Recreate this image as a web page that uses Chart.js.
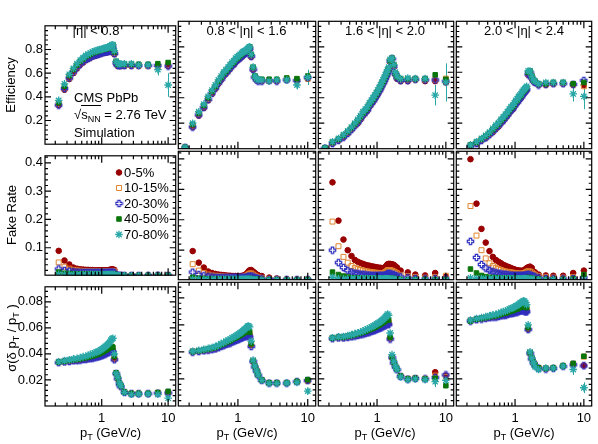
<!DOCTYPE html>
<html>
<head>
<meta charset="utf-8">
<script src="https://cdn.jsdelivr.net/npm/chart.js@4.4.1/dist/chart.umd.min.js"></script>
<style>
  body { margin: 0; background: #fff; width: 598px; height: 444px; overflow: hidden; position: relative;
         font-family: 'Liberation Sans', Arial, sans-serif; }
  canvas { position: absolute; }
  .lbl { position: absolute; font-size: 13px; line-height: 15px; color: #000; white-space: nowrap; }
  .c { transform: translate(-50%, -50%); }
  .rot { transform: translate(-50%, -50%) rotate(-90deg); }
  sub { font-size: 9px; vertical-align: -3px; line-height: 0; }
  .ov { border-top: 1px solid #000; padding-top: 1px; }
</style>
</head>
<body>
<script>
// pT bin centres (GeV/c)
const ptBins = [0.175,
  0.225, 0.275, 0.325, 0.375, 0.425, 0.475, 0.525, 0.575, 0.625, 0.675,
  0.725, 0.775, 0.825, 0.875, 0.925, 0.975, 1.025, 1.075, 1.125, 1.175,
  1.225, 1.275, 1.325, 1.375, 1.425, 1.475,
  1.55, 1.65, 1.75, 1.85, 1.95,
  2.2, 2.8, 3.6, 5, 7, 10];

const centLabels = ['0-5%', '10-15%', '20-30%', '40-50%', '70-80%'];
const etaLabels = ['|η| < 0.8', '0.8 < |η| < 1.6', '1.6 < |η| < 2.0', '2.0 < |η| < 2.4'];

const xTickVals = [1, 10];
const xMinorTicks = [0.2, 0.3, 0.4, 0.5, 0.6, 0.7, 0.8, 0.9, 2, 3, 4, 5, 6, 7, 8, 9];
const effTicks = [0.2, 0.4, 0.6, 0.8];
const effMinor = [0.04, 0.08, 0.12, 0.16, 0.24, 0.28, 0.32, 0.36, 0.44, 0.48, 0.52, 0.56, 0.64, 0.68, 0.72, 0.76, 0.84, 0.88, 0.92, 0.96];
const fakeTicks = [0.1, 0.2, 0.3, 0.4];
const fakeMinor = [0.02, 0.04, 0.06, 0.08, 0.12, 0.14, 0.16, 0.18, 0.22, 0.24, 0.26, 0.28, 0.32, 0.34, 0.36, 0.38, 0.42];
const resTicks = [0.02, 0.04, 0.06, 0.08];
const resMinor = [0.004, 0.008, 0.012, 0.016, 0.024, 0.028, 0.032, 0.036, 0.044, 0.048, 0.052, 0.056, 0.064, 0.068, 0.072, 0.076, 0.084, 0.088];

// rows in each block: 0-5%, 10-15%, 20-30%, 40-50%, 70-80%
const effEta0 = [
  [null, .33,.46,.55,.60,.64,.67,.69,.71,.72,.73, .74,.745,.75,.755,.76,.765,.77,.77,.775,.775, .78,.78,.785,.79,.80,.81, .76,.68,.66,.66,.66, .66,.66,.66,.66,.66,.66],
  [null, .34,.47,.56,.61,.65,.68,.70,.72,.73,.74, .75,.755,.76,.765,.77,.775,.78,.78,.785,.785, .79,.79,.795,.80,.81,.82, .77,.69,.665,.665,.665, .665,.665,.665,.66,.655,.67],
  [null, .33,.47,.56,.61,.65,.68,.70,.715,.725,.735, .745,.75,.755,.76,.765,.77,.775,.775,.78,.78, .785,.785,.79,.795,.805,.815, .765,.685,.665,.665,.665, .665,.665,.665,.665,.665,.66],
  [null, .35,.49,.58,.63,.67,.70,.72,.74,.75,.76, .77,.775,.78,.785,.79,.795,.80,.80,.805,.805, .81,.81,.815,.82,.83,.835, .78,.70,.675,.675,.675, .675,.675,.675,.675,.68,.69],
  [null, .37,.51,.59,.64,.68,.71,.73,.75,.76,.77, .78,.785,.79,.795,.80,.80,.805,.81,.81,.815, .82,.82,.825,.83,.84,.84, .79,.70,.68,.68,.68, .68,.68,.67,.67,.63,.50]
];
const effEta1 = [
  [.01, .17,.26,.32,.38,.43,.47,.51,.54,.57,.59, .61,.63,.65,.66,.68,.69,.70,.71,.72,.73, .74,.745,.75,.76,.77,.78, .72,.62,.56,.54,.53, .53,.53,.53,.54,.53,.55],
  [.01, .18,.27,.33,.39,.44,.48,.52,.55,.58,.60, .62,.64,.66,.67,.69,.70,.71,.72,.73,.74, .75,.755,.76,.77,.78,.79, .73,.63,.565,.545,.535, .535,.535,.535,.545,.535,.55],
  [.01, .17,.265,.325,.385,.435,.475,.515,.545,.575,.595, .615,.635,.655,.665,.685,.695,.705,.715,.725,.735, .745,.75,.755,.765,.775,.785, .725,.62,.56,.54,.53, .53,.535,.53,.54,.535,.56],
  [.01, .19,.28,.34,.40,.45,.49,.53,.56,.59,.61, .63,.65,.67,.68,.70,.71,.72,.73,.74,.75, .76,.765,.77,.78,.79,.80, .74,.64,.57,.55,.545, .545,.545,.545,.555,.55,.57],
  [.01, .20,.29,.35,.41,.46,.50,.54,.57,.60,.62, .64,.66,.68,.69,.71,.72,.73,.74,.75,.76, .765,.77,.775,.785,.795,.80, .74,.64,.57,.55,.54, .54,.53,.54,.54,.50,.56]
];
const effEta2 = [
  [.005, .04,.065,.09,.12,.15,.18,.20,.23,.26,.28, .30,.33,.35,.37,.39,.41,.43,.45,.47,.49, .51,.53,.55,.57,.59,.61, .68,.70,.64,.58,.55, .53,.53,.54,.53,.53,.52],
  [.005, .045,.07,.095,.125,.155,.185,.21,.24,.27,.29, .31,.34,.36,.38,.40,.42,.44,.46,.48,.50, .52,.54,.56,.58,.60,.62, .69,.71,.65,.59,.56, .54,.54,.545,.54,.54,.55],
  [.005, .04,.065,.09,.12,.15,.18,.205,.235,.265,.285, .305,.335,.355,.375,.395,.415,.435,.455,.475,.495, .515,.535,.555,.575,.595,.615, .685,.705,.645,.585,.555, .535,.535,.545,.54,.54,.53],
  [.005, .05,.075,.105,.135,.165,.195,.22,.25,.28,.30, .32,.35,.37,.39,.41,.43,.45,.47,.49,.51, .53,.55,.57,.59,.61,.63, .69,.71,.66,.59,.565, .55,.55,.55,.55,.58,.545],
  [.005, .055,.08,.11,.14,.17,.20,.23,.26,.29,.31, .33,.36,.38,.40,.42,.44,.46,.48,.50,.52, .54,.56,.58,.60,.62,.64, .70,.71,.66,.60,.57, .55,.555,.55,.55,.42,.52]
];
const effEta3 = [
  [null, .02,.04,.065,.085,.11,.13,.155,.175,.20,.22, .24,.26,.28,.30,.31,.33,.35,.36,.38,.39, .40,.42,.43,.44,.45,.46, .58,.59,.55,.53,.52, .50,.50,.51,.51,.50,.50],
  [null, .025,.045,.07,.09,.115,.14,.165,.185,.21,.23, .25,.27,.29,.31,.32,.34,.36,.37,.39,.40, .41,.43,.44,.45,.46,.47, .59,.60,.56,.535,.52, .505,.505,.51,.515,.505,.49],
  [null, .02,.04,.065,.085,.11,.135,.16,.18,.205,.225, .245,.265,.285,.305,.315,.335,.355,.365,.385,.395, .405,.425,.435,.445,.455,.465, .585,.595,.555,.53,.52, .50,.505,.51,.51,.505,.535],
  [null, .03,.05,.075,.10,.125,.15,.175,.195,.22,.24, .26,.28,.30,.32,.33,.35,.37,.38,.40,.41, .42,.44,.45,.46,.47,.48, .60,.61,.57,.54,.53, .51,.51,.52,.52,.51,.52],
  [null, .03,.055,.08,.105,.13,.16,.185,.205,.23,.25, .27,.29,.31,.33,.34,.36,.38,.39,.41,.42, .43,.45,.46,.47,.48,.49, .61,.61,.57,.54,.53, .51,.52,.52,.52,.43,.41]
];
// 70-80% uncertainties on the last six bins
const effErr70 = [
  [.01, .01, .015, .02, .05, .10],
  [.01, .01, .015, .02, .035, .06],
  [.01, .01, .015, .02, .08, .15],
  [.01, .015, .015, .02, .06, .10]
];

const fakeEta0 = [
  [null, .089,.055,.041,.030,.026,.024,.023,.022,.022,.021, .021,.020,.020,.020,.020,.020,.020,.020,.020,.020, .020,.021,.022,.023,.024,.023, .022,.004,.003,.003,.003, .003,.003,.003,.003,.003,.003],
  [null, .048,.033,.026,.022,.020,.019,.018,.018,.017,.017, .017,.016,.016,.016,.016,.016,.016,.016,.016,.016, .016,.017,.017,.018,.018,.018, .017,.003,.002,.002,.002, .002,.002,.002,.002,.002,.003],
  [null, .025,.020,.017,.015,.014,.014,.013,.013,.013,.013, .012,.012,.012,.012,.012,.012,.012,.012,.012,.012, .012,.012,.013,.013,.013,.013, .012,.002,.002,.002,.002, .002,.002,.002,.002,.003,.002],
  [null, .014,.010,.009,.008,.008,.008,.008,.008,.008,.008, .008,.008,.008,.008,.008,.008,.008,.008,.008,.008, .008,.008,.008,.008,.008,.008, .007,.002,.002,.002,.002, .002,.002,.002,.002,.002,.002],
  [null, .006,.005,.005,.005,.005,.005,.005,.005,.005,.005, .005,.005,.005,.005,.005,.005,.005,.005,.005,.005, .005,.005,.005,.005,.005,.005, .005,.001,.001,.001,.001, .001,.001,.001,.001,.001,.001]
];
const fakeEta1 = [
  [null, .097,.059,.043,.030,.025,.022,.020,.019,.018,.017, .016,.016,.015,.015,.015,.015,.015,.015,.015,.016, .017,.019,.022,.026,.031,.034, .035,.030,.025,.020,.018, .015,.010,.007,.005,.004,.004],
  [null, .054,.033,.025,.020,.017,.016,.015,.014,.013,.013, .012,.012,.012,.012,.012,.012,.012,.012,.012,.012, .013,.014,.016,.018,.021,.023, .024,.020,.016,.013,.011, .009,.006,.004,.003,.003,.004],
  [null, .028,.020,.016,.013,.012,.011,.010,.010,.010,.010, .009,.009,.009,.009,.009,.009,.009,.009,.009,.009, .010,.010,.011,.012,.013,.014, .015,.012,.010,.008,.007, .006,.004,.003,.003,.003,.003],
  [null, .011,.008,.007,.006,.006,.006,.006,.006,.006,.006, .006,.006,.006,.006,.006,.006,.006,.006,.006,.006, .006,.006,.006,.006,.007,.007, .007,.006,.005,.004,.004, .003,.003,.002,.002,.002,.003],
  [null, .004,.004,.004,.004,.004,.004,.004,.004,.004,.004, .004,.004,.004,.004,.004,.004,.004,.004,.004,.004, .004,.004,.004,.004,.004,.004, .004,.003,.003,.002,.002, .002,.002,.002,.002,.002,.002]
];
const fakeEta2 = [
  [null, .323,.197,.135,.100,.081,.068,.062,.058,.055,.052, .050,.049,.047,.046,.045,.044,.043,.042,.042,.041, .041,.042,.045,.050,.054,.055, .055,.054,.052,.047,.043, .033,.027,.020,.017,.025,.013],
  [null, .194,.113,.078,.059,.048,.042,.038,.035,.033,.031, .030,.029,.028,.027,.026,.026,.025,.025,.025,.025, .025,.026,.028,.031,.034,.035, .035,.033,.030,.027,.024, .019,.015,.012,.010,.012,.016],
  [null, .100,.059,.043,.033,.028,.025,.023,.021,.020,.019, .018,.018,.017,.017,.016,.016,.016,.016,.016,.016, .016,.017,.018,.020,.022,.023, .023,.021,.019,.017,.015, .012,.009,.007,.006,.006,.006],
  [null, .028,.020,.015,.012,.010,.009,.009,.008,.008,.008, .008,.008,.008,.008,.008,.008,.008,.008,.008,.008, .008,.008,.008,.008,.009,.009, .009,.008,.007,.006,.005, .004,.003,.003,.003,.003,.003],
  [null, .011,.007,.006,.006,.006,.006,.006,.006,.006,.006, .006,.006,.006,.006,.006,.006,.006,.006,.006,.006, .006,.006,.006,.006,.006,.006, .006,.005,.004,.003,.003, .002,.002,.002,.002,.002,.002]
];
const fakeEta3 = [
  [null, .399,.253,.170,.125,.097,.078,.068,.062,.057,.052, .049,.046,.044,.041,.039,.037,.035,.034,.033,.033, .032,.032,.033,.035,.038,.041, .044,.046,.042,.030,.027, .020,.017,.016,.016,.025,.033],
  [null, .245,.148,.100,.073,.057,.048,.042,.038,.035,.032, .030,.029,.028,.027,.026,.025,.024,.024,.023,.023, .023,.023,.024,.025,.027,.029, .031,.030,.027,.022,.019, .015,.012,.010,.010,.012,.015],
  [null, .129,.076,.053,.041,.034,.029,.026,.024,.022,.021, .020,.019,.018,.018,.017,.017,.017,.016,.016,.016, .016,.016,.016,.017,.018,.019, .020,.019,.017,.014,.012, .009,.007,.006,.006,.007,.010],
  [null, .038,.025,.017,.013,.011,.010,.010,.009,.009,.009, .009,.009,.009,.009,.009,.009,.009,.009,.009,.009, .009,.009,.009,.009,.009,.010, .010,.009,.008,.007,.006, .005,.004,.004,.004,.006,.020],
  [null, .009,.007,.007,.006,.006,.006,.006,.006,.006,.006, .006,.006,.006,.006,.006,.006,.006,.006,.006,.006, .006,.006,.006,.006,.006,.006, .006,.005,.004,.004,.004, .003,.003,.003,.003,.003,.003]
];

const resEta0 = [
  [null, .0335,.0340,.0345,.0350,.0350,.0355,.0360,.0360,.0365,.0370, .0370,.0375,.0380,.0380,.0385,.0390,.0395,.0400,.0405,.0410, .0415,.0420,.0425,.0430,.0430,.0420, .0360,.0250,.0210,.0170,.0150, .0105,.0095,.0095,.0095,.0100,.0105],
  [null, .0337,.0342,.0347,.0352,.0353,.0358,.0363,.0364,.0369,.0374, .0375,.0380,.0385,.0386,.0391,.0396,.0401,.0406,.0411,.0416, .0421,.0426,.0431,.0436,.0437,.0428, .0365,.0252,.0212,.0172,.0152, .0106,.0096,.0096,.0096,.0101,.0104],
  [null, .0333,.0338,.0342,.0347,.0348,.0352,.0357,.0358,.0362,.0366, .0367,.0371,.0376,.0377,.0381,.0385,.0390,.0395,.0399,.0404, .0409,.0413,.0418,.0423,.0424,.0415, .0355,.0248,.0208,.0168,.0148, .0104,.0094,.0094,.0094,.0098,.0100],
  [null, .0338,.0344,.0350,.0355,.0357,.0362,.0368,.0370,.0375,.0381, .0383,.0388,.0394,.0396,.0402,.0408,.0414,.0420,.0426,.0432, .0438,.0444,.0450,.0455,.0457,.0450, .0380,.0255,.0215,.0175,.0155, .0108,.0097,.0097,.0097,.0103,.0112],
  [null, .0340,.0348,.0355,.0362,.0366,.0372,.0379,.0382,.0389,.0396, .0400,.0407,.0414,.0418,.0425,.0432,.0440,.0448,.0456,.0464, .0472,.0480,.0490,.0505,.0515,.0520, .0400,.0250,.0220,.0175,.0155, .0105,.0090,.0092,.0093,.0090,.0060]
];
const resEta1 = [
  [null, .0400,.0405,.0410,.0415,.0420,.0425,.0435,.0445,.0450,.0460, .0465,.0470,.0480,.0485,.0490,.0495,.0500,.0505,.0510,.0515, .0520,.0525,.0525,.0530,.0530,.0520, .0450,.0330,.0290,.0260,.0230, .0190,.0170,.0170,.0170,.0180,.0190],
  [null, .0402,.0407,.0412,.0417,.0422,.0428,.0438,.0448,.0454,.0464, .0469,.0475,.0485,.0490,.0496,.0501,.0506,.0512,.0517,.0522, .0528,.0533,.0533,.0538,.0538,.0527, .0455,.0333,.0292,.0262,.0232, .0191,.0171,.0171,.0171,.0178,.0185],
  [null, .0398,.0403,.0408,.0412,.0417,.0422,.0431,.0441,.0446,.0455, .0460,.0465,.0474,.0479,.0484,.0489,.0494,.0498,.0503,.0508, .0513,.0517,.0517,.0521,.0520,.0510, .0440,.0328,.0288,.0258,.0228, .0189,.0169,.0169,.0169,.0180,.0188],
  [null, .0403,.0409,.0415,.0421,.0427,.0433,.0443,.0454,.0460,.0470, .0476,.0482,.0493,.0499,.0505,.0511,.0517,.0523,.0529,.0535, .0541,.0547,.0548,.0553,.0553,.0545, .0460,.0335,.0295,.0262,.0232, .0192,.0172,.0172,.0172,.0182,.0195],
  [null, .0405,.0412,.0419,.0426,.0433,.0440,.0451,.0462,.0469,.0480, .0487,.0494,.0505,.0512,.0519,.0526,.0533,.0540,.0548,.0556, .0564,.0572,.0580,.0590,.0592,.0585, .0480,.0340,.0295,.0260,.0230, .0190,.0168,.0168,.0170,.0175,.0110]
];
const resEta2 = [
  [null, .0500,.0505,.0505,.0510,.0515,.0520,.0525,.0530,.0535,.0540, .0545,.0550,.0555,.0560,.0565,.0570,.0575,.0580,.0585,.0590, .0595,.0600,.0605,.0610,.0615,.0610, .0500,.0360,.0320,.0290,.0270, .0220,.0200,.0205,.0200,.0250,.0225],
  [null, .0502,.0507,.0508,.0513,.0518,.0523,.0529,.0534,.0539,.0544, .0550,.0555,.0560,.0566,.0571,.0576,.0582,.0587,.0592,.0598, .0603,.0608,.0614,.0619,.0624,.0618, .0505,.0362,.0322,.0292,.0272, .0222,.0202,.0207,.0203,.0225,.0215],
  [null, .0498,.0503,.0503,.0508,.0512,.0517,.0522,.0527,.0532,.0536, .0541,.0546,.0551,.0555,.0560,.0565,.0570,.0574,.0579,.0584, .0589,.0593,.0598,.0603,.0607,.0602, .0495,.0358,.0318,.0288,.0268, .0218,.0198,.0203,.0200,.0210,.0230],
  [null, .0503,.0509,.0510,.0516,.0522,.0528,.0534,.0540,.0546,.0552, .0558,.0564,.0570,.0576,.0582,.0588,.0594,.0600,.0606,.0612, .0618,.0624,.0630,.0636,.0640,.0635, .0510,.0365,.0325,.0295,.0272, .0222,.0200,.0205,.0200,.0205,.0150],
  [null, .0505,.0512,.0514,.0521,.0528,.0535,.0542,.0549,.0556,.0563, .0570,.0577,.0584,.0591,.0598,.0605,.0612,.0619,.0626,.0633, .0640,.0650,.0660,.0670,.0680,.0670, .0540,.0380,.0330,.0295,.0270, .0215,.0195,.0200,.0195,.0180,.0190]
];
const resEta3 = [
  [null, .0630,.0640,.0645,.0650,.0655,.0660,.0660,.0665,.0670,.0675, .0675,.0680,.0685,.0690,.0690,.0695,.0700,.0700,.0705,.0710, .0710,.0715,.0715,.0710,.0705,.0705, .0570,.0390,.0350,.0320,.0300, .0280,.0275,.0280,.0295,.0310,.0300],
  [null, .0632,.0642,.0647,.0652,.0658,.0663,.0664,.0669,.0674,.0680, .0680,.0686,.0691,.0697,.0697,.0703,.0708,.0709,.0714,.0720, .0720,.0726,.0727,.0723,.0718,.0718, .0575,.0392,.0352,.0322,.0302, .0282,.0277,.0282,.0297,.0312,.0365],
  [null, .0628,.0638,.0643,.0648,.0653,.0657,.0657,.0662,.0667,.0671, .0671,.0676,.0681,.0685,.0685,.0690,.0694,.0694,.0699,.0703, .0703,.0707,.0707,.0702,.0697,.0697, .0565,.0388,.0348,.0318,.0298, .0278,.0273,.0278,.0293,.0305,.0297],
  [null, .0627,.0642,.0648,.0654,.0660,.0666,.0667,.0673,.0679,.0685, .0686,.0692,.0698,.0704,.0705,.0711,.0717,.0718,.0724,.0730, .0731,.0737,.0738,.0735,.0730,.0728, .0580,.0395,.0355,.0325,.0305, .0283,.0278,.0283,.0298,.0315,.0368],
  [null, .0635,.0647,.0654,.0661,.0668,.0675,.0678,.0685,.0692,.0699, .0702,.0709,.0716,.0723,.0726,.0733,.0740,.0745,.0752,.0760, .0765,.0772,.0778,.0775,.0765,.0750, .0600,.0400,.0355,.0320,.0290, .0270,.0280,.0280,.0295,.0270,.0135]
];
const resErr70 = [
  [.0005, .0005, .0005, .0008, .001, .0015],
  [.0005, .0005, .0005, .0008, .001, .002],
  [.0005, .0005, .0008, .001, .004, .003],
  [.0005, .0008, .001, .001, .004, .004]
];

// open cross marker (ROOT style 28)
function openCross(color) {
  const c = document.createElement('canvas');
  c.width = 9; c.height = 9;
  const g = c.getContext('2d');
  const a = 1.2, e = 3.2, o = 4.5;
  const pts = [[-a,-e],[a,-e],[a,-a],[e,-a],[e,a],[a,a],[a,e],[-a,e],[-a,a],[-e,a],[-e,-a],[-a,-a]];
  g.strokeStyle = color; g.lineWidth = 1.2;
  g.beginPath();
  pts.forEach(([px, py], i) => i ? g.lineTo(o + px, o + py) : g.moveTo(o + px, o + py));
  g.closePath(); g.stroke();
  return c;
}

const seriesStyle = [
  { color: '#990000', style: 'circle', r: 2.8, fill: true,  bw: 1 },
  { color: '#e0842e', style: 'rect',   r: 3.5, fill: false, bw: 1 },
  { color: '#2f2fc0', style: openCross('#2f2fc0'), r: 3.5, fill: false, bw: 1 },
  { color: '#0a750a', style: 'rect',   r: 3.2, fill: true,  bw: 1 },
  { color: '#2aa8a8', style: 'star',   r: 3.8, fill: false, bw: 1.3 }
];

const colEdges = [[45, 177], [177, 317], [317, 455], [455, 593]];
const rowEdges = [[20, 150], [150, 281], [281, 406]];

const rows = [
  { sets: [effEta0, effEta1, effEta2, effEta3], err: effErr70, min: 0, max: 1.0, ticks: effTicks, minor: effMinor, dec: 1 },
  { sets: [fakeEta0, fakeEta1, fakeEta2, fakeEta3], err: null, min: 0.003, max: 0.425, ticks: fakeTicks, minor: fakeMinor, dec: 1 },
  { sets: [resEta0, resEta1, resEta2, resEta3], err: resErr70, min: 0, max: 0.0915, ticks: resTicks, minor: resMinor, dec: 2 }
];

Chart.defaults.font.family = "'Liberation Sans', Arial, sans-serif";
Chart.defaults.font.size = 13;
Chart.defaults.color = '#000';

const framePlugin = {
  id: 'frame',
  afterDraw(chart, args, o) {
    const { ctx, chartArea: a, scales: { x, y } } = chart;
    ctx.save();
    ctx.strokeStyle = '#000';
    ctx.lineWidth = 1.2;
    ctx.strokeRect(a.left, a.top, a.right - a.left, a.bottom - a.top);
    ctx.beginPath();
    const tx = (v, len) => {
      const px = x.getPixelForValue(v);
      ctx.moveTo(px, a.bottom); ctx.lineTo(px, a.bottom - len);
      ctx.moveTo(px, a.top); ctx.lineTo(px, a.top + len);
    };
    const ty = (v, len) => {
      const py = y.getPixelForValue(v);
      ctx.moveTo(a.left, py); ctx.lineTo(a.left + len, py);
      ctx.moveTo(a.right, py); ctx.lineTo(a.right - len, py);
    };
    xTickVals.forEach(v => tx(v, 7));
    xMinorTicks.forEach(v => tx(v, 3.5));
    o.major.forEach(v => ty(v, 6));
    o.minor.forEach(v => ty(v, 3));
    ctx.stroke();
    ctx.restore();
  }
};

const errPlugin = {
  id: 'errTail',
  beforeDatasetsDraw(chart) {
    const { ctx, scales: { x, y } } = chart;
    chart.data.datasets.forEach(ds => {
      if (!ds.errTail) return;
      const pts = ds.data.slice(-ds.errTail.length);
      ctx.save();
      ctx.strokeStyle = ds.pointBorderColor;
      ctx.lineWidth = 1;
      ctx.beginPath();
      pts.forEach((p, j) => {
        const e = ds.errTail[j];
        const px = Math.round(x.getPixelForValue(p.x)) + 0.5;
        ctx.moveTo(px, y.getPixelForValue(p.y - e));
        ctx.lineTo(px, y.getPixelForValue(p.y + e));
      });
      ctx.stroke();
      ctx.restore();
    });
  }
};

// centrality legend inside the fake-rate |eta|<0.8 panel (page coordinates)
const legendPlugin = {
  id: 'centLegend',
  afterDraw(chart, args, o) {
    const ctx = chart.ctx;
    ctx.save();
    ctx.font = "13px 'Liberation Sans', Arial, sans-serif";
    ctx.textBaseline = 'middle';
    chart.data.datasets.forEach((ds, i) => {
      const y = o.y0 + i * o.dy - o.offY;
      const x = o.x - o.offX;
      ctx.fillStyle = ds.pointBackgroundColor;
      ctx.strokeStyle = ds.pointBorderColor;
      ctx.lineWidth = ds.pointBorderWidth;
      if (Chart.helpers && Chart.helpers.drawPoint) {
        Chart.helpers.drawPoint(ctx, { pointStyle: ds.pointStyle, radius: ds.pointRadius, rotation: 0, borderWidth: ds.pointBorderWidth }, x, y);
      }
      ctx.fillStyle = '#000';
      ctx.fillText(ds.label, x + 5, y + 0.5);
    });
    ctx.restore();
  }
};

rows.forEach((row, r) => colEdges.forEach(([x0, x1], c) => {
  const [y0, y1] = rowEdges[r];
  const ml = c === 0 ? 45 : 4, mr = 4, mt = 4, mb = r === 2 ? 38 : 4;
  const cv = document.createElement('canvas');
  cv.width = x1 - x0 + ml + mr;
  cv.height = y1 - y0 + mt + mb;
  cv.style.left = (x0 - ml) + 'px';
  cv.style.top = (y0 - mt) + 'px';
  document.body.appendChild(cv);

  const series = row.sets[c];
  const datasets = centLabels.map((lab, i) => {
    const st = seriesStyle[i];
    const ds = {
      label: lab,
      data: ptBins.map((x, k) => ({ x, y: series[i][k] })).filter(p => p.y != null),
      pointStyle: st.style,
      pointRadius: st.r,
      pointBorderWidth: st.bw,
      pointBorderColor: st.color,
      pointBackgroundColor: st.fill ? st.color : 'rgba(0,0,0,0)',
      showLine: false,
      order: 5 - i
    };
    if (i === 4 && row.err) ds.errTail = row.err[c];
    return ds;
  });

  const plugins = [errPlugin, framePlugin];
  if (r === 1 && c === 0) plugins.push(legendPlugin);

  new Chart(cv, {
    type: 'scatter',
    data: { datasets },
    options: {
      responsive: false,
      animation: false,
      devicePixelRatio: 1,
      layout: { padding: { left: 0, top: mt, right: mr, bottom: 0 } },
      plugins: {
        legend: { display: false },
        tooltip: { enabled: false },
        frame: { major: row.ticks, minor: row.minor },
        centLegend: { x: 119, y0: 172.5, dy: 15.5, offX: x0 - ml, offY: y0 - mt }
      },
      scales: {
        x: {
          type: 'logarithmic', min: 0.14, max: 13,
          grid: { display: false, drawTicks: false },
          border: { display: false },
          ticks: { display: r === 2, padding: 5, autoSkip: false, maxRotation: 0, callback: v => String(v) },
          afterBuildTicks: s => { s.ticks = xTickVals.map(v => ({ value: v })); },
          afterFit: s => { s.height = mb; }
        },
        y: {
          type: 'linear', min: row.min, max: row.max,
          grid: { display: false, drawTicks: false },
          border: { display: false },
          ticks: { display: c === 0, padding: 2, autoSkip: false, callback: v => v.toFixed(row.dec) },
          afterBuildTicks: s => { s.ticks = row.ticks.map(v => ({ value: v })); },
          afterFit: s => { s.width = ml; }
        }
      }
    },
    plugins
  });
}));

// text overlays
const etaPos = [[96, 29.5], [246.5, 29.5], [385, 29.5], [524, 29.5]];
etaLabels.forEach((t, i) => {
  const d = document.createElement('div');
  d.className = 'lbl c';
  d.style.left = etaPos[i][0] + 'px';
  d.style.top = etaPos[i][1] + 'px';
  d.textContent = t;
  document.body.appendChild(d);
});
const xTitleX = [110.5, 247, 385, 524];
xTitleX.forEach(x => {
  const d = document.createElement('div');
  d.className = 'lbl c';
  d.style.left = x + 'px';
  d.style.top = '432px';
  d.innerHTML = 'p<sub>T</sub> (GeV/c)';
  document.body.appendChild(d);
});
</script>
<div class="lbl rot" style="left:10px;top:85px">Efficiency</div>
<div class="lbl rot" style="left:11px;top:215px">Fake Rate</div>
<div class="lbl rot" style="left:11px;top:338px">σ(δ p<sub>T</sub> / p<sub>T</sub> )</div>
<div class="lbl" style="left:74px;top:89.5px">CMS PbPb</div>
<div class="lbl" style="left:74px;top:107px">√<span class="ov">s<sub>NN</sub></span> = 2.76 TeV</div>
<div class="lbl" style="left:74px;top:124.5px">Simulation</div>
</body>
</html>
